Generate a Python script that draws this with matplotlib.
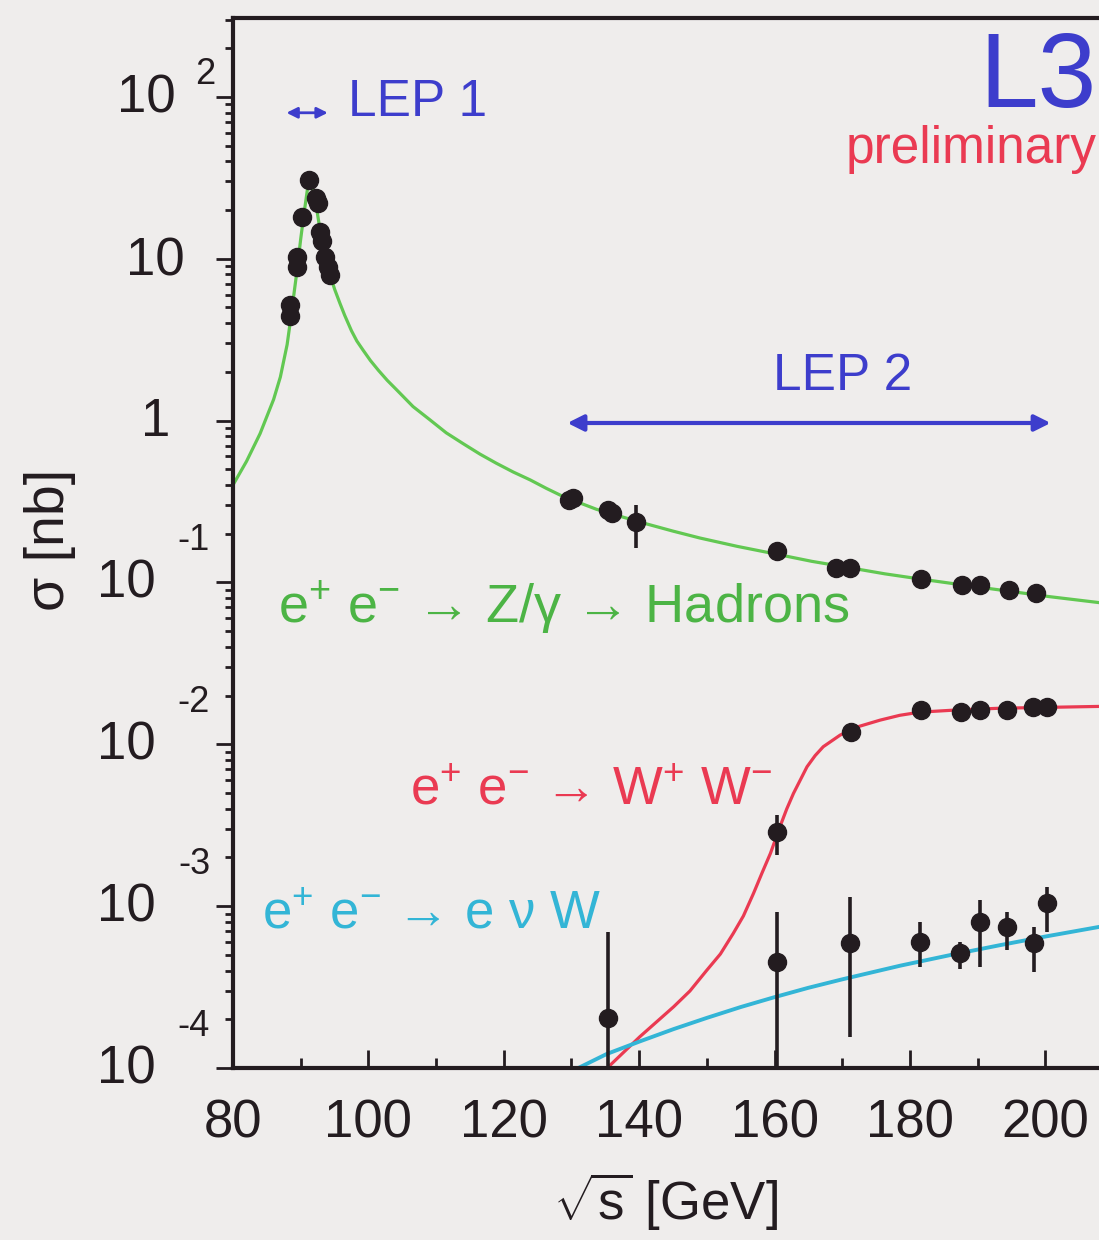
import matplotlib
matplotlib.use('Agg')
import matplotlib.pyplot as plt
from matplotlib.ticker import LogLocator, MultipleLocator, NullFormatter, FixedLocator

plt.rcParams['font.family'] = ['Liberation Sans', 'DejaVu Sans']
plt.rcParams['mathtext.fontset'] = 'custom'
plt.rcParams['mathtext.rm'] = 'Liberation Sans'
plt.rcParams['mathtext.it'] = 'Liberation Sans'
plt.rcParams['mathtext.sf'] = 'Liberation Sans'

# --- measured cross sections (read off the picture) ---
# e+e- -> hadrons, LEP 1 scan
lep1_e = [88.4, 88.4, 89.4, 89.4, 90.2, 91.3, 92.3, 92.5, 92.9, 93.1, 93.6, 94.1, 94.3]
lep1_xs = [4.4, 5.2, 8.9, 10.3, 18.2, 30.7, 23.6, 22.0, 14.7, 12.8, 10.3, 8.9, 7.9]

# e+e- -> hadrons, LEP 2
had_e = [129.7, 130.2, 135.4, 136.0, 139.6, 160.4, 169.1, 171.2, 181.7, 187.7, 190.4, 194.6, 198.6]
had_xs = [0.323, 0.330, 0.280, 0.270, 0.236, 0.156, 0.123, 0.123, 0.105, 0.0964, 0.0964, 0.0898, 0.086]
had_lo = [0, 0, 0, 0, 0.073, 0, 0, 0, 0, 0, 0, 0, 0]
had_hi = [0, 0, 0, 0, 0.064, 0, 0, 0, 0, 0, 0, 0, 0]

# e+e- -> W+W-
ww_e = [160.4, 171.3, 181.6, 187.5, 190.4, 194.4, 198.2, 200.3]
ww_xs = [0.00286, 0.0119, 0.01626, 0.0158, 0.0163, 0.0163, 0.0170, 0.0170]
ww_lo = [0.00079, 0, 0, 0, 0, 0, 0, 0]
ww_hi = [0.00079, 0, 0, 0, 0, 0, 0, 0]

# e+e- -> e nu W  (value, lower end, upper end of error bar)
enw_e = [135.4, 160.4, 171.2, 181.5, 187.4, 190.4, 194.3, 198.3, 200.2]
enw_xs = [2.03e-4, 4.5e-4, 5.88e-4, 6.02e-4, 5.1e-4, 8.0e-4, 7.45e-4, 5.88e-4, 1.04e-3]
enw_low = [5e-5, 5e-5, 1.56e-4, 4.2e-4, 4.1e-4, 4.2e-4, 5.35e-4, 3.93e-4, 6.94e-4]
enw_high = [6.9e-4, 9.2e-4, 1.14e-3, 8.0e-4, 6.0e-4, 1.09e-3, 9.2e-4, 7.45e-4, 1.32e-3]

# --- theory curves ---
had_curve_e = [80.0, 82.0, 84.0, 86.0, 87.0, 88.0, 88.5, 89.0, 89.5, 90.0, 90.5, 91.0, 91.3,
               91.7, 92.2, 92.7, 93.2, 93.7, 94.3, 95.0, 95.8, 96.5, 97.5, 98.3, 99.2,
               100.3, 101.5, 102.8, 104.2, 106.6, 109.1, 111.5, 114.0, 116.5, 118.9, 121.4,
               123.9, 126.3, 128.8, 133.7, 140.1, 145.0, 149.0, 154.5, 160.1, 165.5, 171.2,
               176.3, 181.5, 187.4, 193.3, 200.6, 208.0, 210.0]
had_curve_xs = [0.40, 0.56, 0.83, 1.35, 1.86, 2.95, 4.17, 6.03, 8.71, 13.2, 19.1, 26.9, 29.5,
                27.5, 22.4, 16.6, 12.3, 10.1, 8.1, 6.5, 5.3, 4.47, 3.59, 3.10, 2.73,
                2.35, 2.04, 1.77, 1.545, 1.22, 1.01, 0.84, 0.72, 0.62, 0.545, 0.481,
                0.43, 0.381, 0.339, 0.283, 0.236, 0.2075, 0.188, 0.167, 0.150, 0.135, 0.123,
                0.113, 0.105, 0.097, 0.0898, 0.0817, 0.075, 0.0734]

ww_curve_e = [135.5, 140.1, 145.1, 147.5, 150.0, 152.0, 153.9, 155.4, 156.9, 158.2, 159.4,
              160.8, 161.8, 162.8, 164.8, 166.0, 167.2, 169.7, 172.5, 175.6, 178.5, 181.5,
              187.0, 193.3, 210.0]
ww_curve_xs = [1.02e-4, 1.56e-4, 2.39e-4, 2.99e-4, 4.02e-4, 5.06e-4, 6.78e-4, 8.69e-4, 1.2e-3,
               1.62e-3, 2.12e-3, 3.09e-3, 3.98e-3, 4.97e-3, 7.26e-3, 8.51e-3, 9.66e-3, 0.0114,
               0.0129, 0.0141, 0.0151, 0.0158, 0.0163, 0.0167, 0.0172]

enw_curve_e = [130.8, 135.2, 140.1, 145.1, 150.0, 155.0, 160.0, 165.0, 170.0, 178.6, 186.0,
               193.3, 200.0, 210.0]
enw_curve_xs = [0.99e-4, 1.22e-4, 1.46e-4, 1.74e-4, 2.04e-4, 2.38e-4, 2.74e-4, 3.13e-4,
                3.53e-4, 4.29e-4, 4.99e-4, 5.74e-4, 6.49e-4, 7.71e-4]

y_decades = [-4, -3, -2, -1, 0, 1, 2]
x_major = [80, 100, 120, 140, 160, 180, 200]

bg = '#efedec'
ink = '#231c20'
green = '#62c852'
green_txt = '#4cb445'
red = '#ea3a52'
cyan = '#33b5d6'
blue = '#3d3dcc'

fig = plt.figure(figsize=(10.99, 12.40), dpi=100, facecolor=bg)
ax = fig.add_axes([0.2120, 0.1387, 0.8007, 0.8468], facecolor=bg)
ax.set_yscale('log')
ax.set_xlim(80, 210)
ax.set_ylim(1e-4, 307)

# curves
ax.plot(had_curve_e, had_curve_xs, color=green, lw=2.3, zorder=2)
ax.plot(ww_curve_e, ww_curve_xs, color=red, lw=2.3, zorder=2)
ax.plot(enw_curve_e, enw_curve_xs, color=cyan, lw=2.8, zorder=2)

# data points
mk = dict(fmt='o', color=ink, ms=13, elinewidth=2.6, capsize=0, zorder=4)
ax.errorbar(lep1_e, lep1_xs, **mk)
ax.errorbar(had_e, had_xs, yerr=[had_lo, had_hi], **mk)
ax.errorbar(ww_e, ww_xs, yerr=[ww_lo, ww_hi], **mk)
enw_err = [[v - lo for v, lo in zip(enw_xs, enw_low)],
           [hi - v for v, hi in zip(enw_xs, enw_high)]]
ax.errorbar(enw_e, enw_xs, yerr=enw_err, **mk)

# axes styling
for side in ['left', 'top', 'right', 'bottom']:
    ax.spines[side].set_linewidth(3)
    ax.spines[side].set_color(ink)

ax.xaxis.set_major_locator(FixedLocator(x_major))
ax.xaxis.set_minor_locator(MultipleLocator(10))
ax.tick_params(axis='x', which='major', direction='in', length=13, width=2, color=ink,
               labelsize=38, pad=22, labelcolor=ink, top=False)
ax.tick_params(axis='x', which='minor', direction='in', length=7, width=2, color=ink, top=False)

ax.yaxis.set_major_locator(LogLocator(base=10, numticks=20))
ax.yaxis.set_minor_locator(LogLocator(base=10, subs=range(2, 10), numticks=100))
ax.yaxis.set_major_formatter(NullFormatter())
ax.yaxis.set_minor_formatter(NullFormatter())
ax.tick_params(axis='y', which='major', direction='out', length=12, width=2, color=ink, right=False)
ax.tick_params(axis='y', which='minor', direction='out', length=6, width=2, color=ink, right=False)

# y tick labels in the "10 ^n" style
lab = dict(xycoords=('axes fraction', 'data'), textcoords='offset points',
           va='center', color=ink, annotation_clip=False)
for k in y_decades:
    v = 10.0 ** k
    if k == 0:
        ax.annotate('1', xy=(0, v), xytext=(-45, -1), ha='right', fontsize=38, **lab)
    elif k == 1:
        ax.annotate('10', xy=(0, v), xytext=(-34.5, -2), ha='right', fontsize=38, **lab)
    elif k == 2:
        ax.annotate('10', xy=(0, v), xytext=(-41.5, -1), ha='right', fontsize=38, **lab)
        ax.annotate(str(k), xy=(0, v), xytext=(-13, 16), ha='right', fontsize=26, **lab)
    else:
        ax.annotate('10', xy=(0, v), xytext=(-56, -1), ha='right', fontsize=38, **lab)
        ax.annotate(str(k), xy=(0, v), xytext=(-16.5, 30), ha='right', fontsize=26, **lab)

ax.set_xlabel(r'$\sqrt{\mathrm{s}}$ [GeV]', fontsize=38, color=ink, va='center')
ax.xaxis.set_label_coords(0.491, -0.128)
ax.set_ylabel(r'σ [nb]', fontsize=40, color=ink, va='center')
ax.yaxis.set_label_coords(-0.208, 0.503)

# annotations
ax.text(207.6, 259, 'L3', color=blue, fontsize=76, ha='right', va='top')
ax.text(207.6, 47, 'preliminary', color=red, fontsize=37, ha='right', va='center')

ax.annotate('', xy=(94.0, 79.7), xytext=(87.9, 79.7),
            arrowprops=dict(arrowstyle='<|-|>', color=blue, lw=2, mutation_scale=16,
                            shrinkA=0, shrinkB=0))
ax.text(97.0, 91.8, 'LEP 1', color=blue, fontsize=37, ha='left', va='center')

ax.annotate('', xy=(200.8, 0.966), xytext=(129.4, 0.966),
            arrowprops=dict(arrowstyle='<|-|>', color=blue, lw=3, mutation_scale=24,
                            shrinkA=0, shrinkB=0))
ax.text(170.1, 1.86, 'LEP 2', color=blue, fontsize=37, ha='center', va='center')

ax.text(86.6, 0.0695, r'e$^{+}$ e$^{-}$ → Z/γ → Hadrons', color=green_txt, fontsize=39,
        ha='left', va='center')
ax.text(106.2, 5.2e-3, r'e$^{+}$ e$^{-}$ → W$^{+}$ W$^{-}$', color=red, fontsize=38,
        ha='left', va='center')
ax.text(84.3, 8.9e-4, r'e$^{+}$ e$^{-}$ → e ν W', color=cyan, fontsize=38,
        ha='left', va='center')

fig.savefig('out.png', dpi=100, facecolor=bg)
